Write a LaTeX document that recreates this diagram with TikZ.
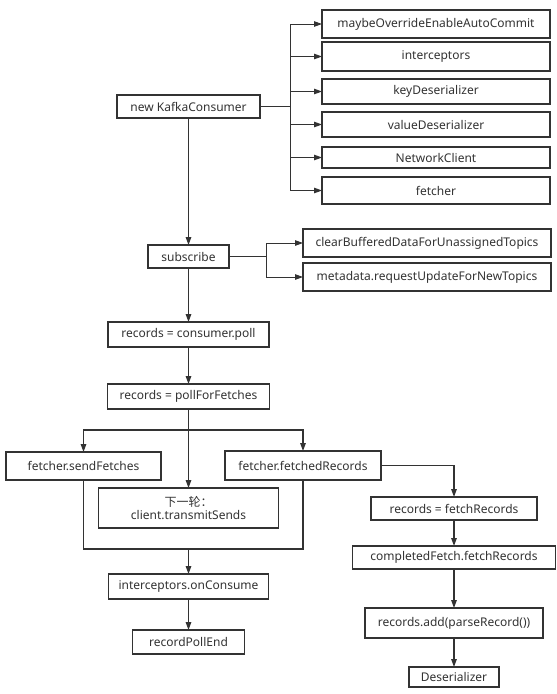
\documentclass[tikz,border=0pt]{standalone}
\usepackage{fontspec}
\setmainfont{Noto Sans}
\newfontfamily\cjk{Noto Sans CJK SC}
\usetikzlibrary{positioning,arrows.meta}
\definecolor{edge}{HTML}{333333}

\begin{document}
\begin{tikzpicture}[
        x=1pt, y=-1pt,
        call/.style={rectangle, draw=edge, line width=1.3pt, fill=white, inner sep=0pt, outer sep=0pt, text=edge, font=\fontsize{12}{13.5}\selectfont},
        link/.style={draw=edge, line width=1.4pt},
        flow/.style={link, -{Triangle[length=8pt,width=5.5pt]}},
        branch/.style={draw=edge, line width=0.9pt, -{Triangle[length=8pt,width=5.5pt]}},
    ]
    \useasboundingbox[fill=white] (0,0) rectangle (557,694);

    % main column
    \node[call, minimum width=143pt, minimum height=23pt] (consumer) at (188.5,106.5) {new KafkaConsumer};
    \node[call, minimum width=81pt, minimum height=23pt] (subscribe) [below=127pt of consumer] {subscribe};
    \node[call, minimum width=161pt, minimum height=25pt] (poll) [below=54pt of subscribe] {records = consumer.poll};
    \node[call, minimum width=162pt, minimum height=25pt] (pollFetches) [below=37pt of poll] {records = pollForFetches};
    \node[call, minimum width=180pt, minimum height=40pt, align=center] (nextRound) [below=79pt of pollFetches] {{\cjk 下一轮：}\\client.transmitSends};
    \node[call, minimum width=155pt, minimum height=28pt] (sendFetches) at (83.5,466) {fetcher.sendFetches};
    \node[call, minimum width=156pt, minimum height=29pt] (fetched) at (303,465.5) {fetcher.fetchedRecords};
    \node[call, minimum width=160pt, minimum height=25pt] (onConsume) [below=46pt of nextRound] {interceptors.onConsume};
    \node[call, minimum width=112pt, minimum height=24pt] (pollEnd) [below=31pt of onConsume] {recordPollEnd};

    % constructor calls
    \node[call, minimum width=228pt, minimum height=28pt] (autoCommit) at (436,24) {maybeOverrideEnableAutoCommit};
    \node[call, minimum width=228pt, minimum height=29pt] (interceptors) [below=4pt of autoCommit] {interceptors};
    \node[call, minimum width=228pt, minimum height=25pt] (keyDes) [below=8pt of interceptors] {keyDeserializer};
    \node[call, minimum width=228pt, minimum height=25pt] (valueDes) [below=8pt of keyDes] {valueDeserializer};
    \node[call, minimum width=228pt, minimum height=21pt] (netClient) [below=10pt of valueDes] {NetworkClient};
    \node[call, minimum width=228pt, minimum height=27pt] (fetcher) [below=9pt of netClient] {fetcher};

    % subscribe calls
    \node[call, minimum width=248pt, minimum height=28pt] (clearBuffered) at (427,243) {clearBufferedDataForUnassignedTopics};
    \node[call, minimum width=248pt, minimum height=28pt] (requestUpdate) [below=6pt of clearBuffered] {metadata.requestUpdateForNewTopics};

    % fetched records
    \node[call, minimum width=166pt, minimum height=23pt] (fetchRecords) at (454,508.5) {records = fetchRecords};
    \node[call, minimum width=203pt, minimum height=23pt] (completed) [below=26pt of fetchRecords] {completedFetch.fetchRecords};
    \node[call, minimum width=178pt, minimum height=30pt] (addRecord) [below=39pt of completed] {records.add(parseRecord())};
    \node[call, minimum width=90pt, minimum height=20pt] (deser) [below=29pt of addRecord] {Deserializer};

    \coordinate[right=30pt of consumer] (splitNew);
    \coordinate[right=37pt of subscribe] (splitSub);
    \coordinate[below=21pt of pollFetches] (splitPoll);
    \coordinate[above=25pt of onConsume] (merge);

    \draw[link] (consumer) -- (splitNew);
    \foreach \b in {autoCommit, interceptors, keyDes, valueDes, netClient, fetcher}
        \draw[branch] (splitNew) |- (\b.west);
    \draw[link] (subscribe) -- (splitSub);
    \foreach \b in {clearBuffered, requestUpdate}
        \draw[branch] (splitSub) |- (\b.west);

    \draw[flow] (consumer) -- (subscribe);
    \draw[flow] (subscribe) -- (poll);
    \draw[flow] (poll) -- (pollFetches);
    \draw[flow] (pollFetches) -- (nextRound);
    \draw[flow] (splitPoll) -| (sendFetches);
    \draw[flow] (splitPoll) -| (fetched);
    \draw[link] (sendFetches) |- (merge) -| (fetched);
    \draw[flow] (merge) -- (onConsume);
    \draw[flow] (onConsume) -- (pollEnd);

    \draw[flow] (fetched) -| (fetchRecords);
    \draw[flow] (fetchRecords) -- (completed);
    \draw[flow] (completed) -- (addRecord);
    \draw[flow] (addRecord) -- (deser);
\end{tikzpicture}
\end{document}
